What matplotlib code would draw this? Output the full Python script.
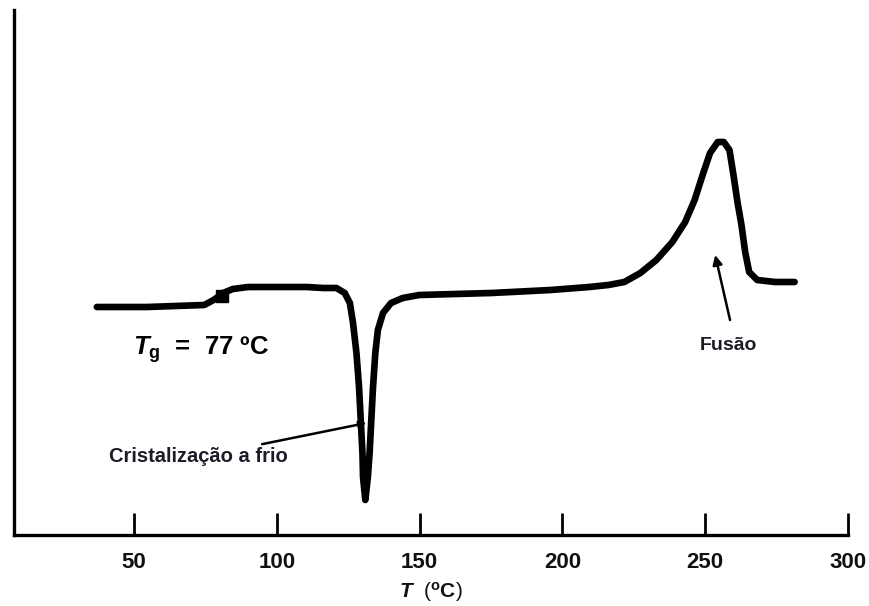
import matplotlib
matplotlib.use("Agg")
import matplotlib.pyplot as plt

# DSC curve: temperature (C) and signal (arbitrary units)
temperature = [37.0, 54.6, 74.6, 77.9, 81.2, 84.6, 90.0, 110.4, 116.3, 120.9,
               123.8, 125.6, 126.7, 127.9, 128.8, 129.4, 130.0, 130.2, 131.0,
               131.9, 132.5, 133.1, 133.7, 134.5, 135.4, 137.2, 140.0, 144.1,
               149.9, 175.2, 195.9, 209.4, 216.1, 221.7, 227.3, 232.9, 238.5,
               243.0, 246.3, 249.1, 251.7, 254.4, 256.5, 258.5, 259.9, 261.3,
               262.7, 264.0, 265.4, 268.2, 274.4, 281.3]
signal = [2.28, 2.28, 2.30, 2.35, 2.42, 2.46, 2.48, 2.48, 2.47, 2.47,
          2.42, 2.32, 2.12, 1.82, 1.48, 1.15, 0.82, 0.58, 0.35,
          0.58, 0.82, 1.15, 1.48, 1.82, 2.05, 2.22, 2.32, 2.37,
          2.40, 2.42, 2.45, 2.48, 2.50, 2.53, 2.62, 2.75, 2.93,
          3.13, 3.35, 3.60, 3.82, 3.93, 3.93, 3.85, 3.60, 3.33,
          3.10, 2.83, 2.63, 2.55, 2.53, 2.53]

tg_mark = (81.0, 2.39)
x_ticks = [50, 100, 150, 200, 250, 300]

plt.rcParams["font.family"] = ["Liberation Sans", "DejaVu Sans"]
plt.rcParams["mathtext.fontset"] = "custom"
plt.rcParams["mathtext.it"] = "Liberation Sans:italic:bold"
plt.rcParams["mathtext.rm"] = "Liberation Sans:bold"
plt.rcParams["mathtext.bf"] = "Liberation Sans:bold"

fig = plt.figure(figsize=(8.69, 6.06), dpi=100)
ax = fig.add_axes([14 / 869, 71 / 606, 834 / 869, 525 / 606])

ax.plot(temperature, signal, color="black", lw=4.8,
        solid_capstyle="round", solid_joinstyle="round")
ax.plot([tg_mark[0]], [tg_mark[1]], marker="s", ms=9, color="black")

ax.set_xlim(8, 300)
ax.set_ylim(0, 5.25)
ax.set_xticks(x_ticks)
ax.set_yticks([])
ax.tick_params(axis="x", direction="in", length=16, width=2, pad=12,
               labelsize=16, labelcolor="#111111")
for lbl in ax.get_xticklabels():
    lbl.set_fontweight("bold")

for side in ("top", "right"):
    ax.spines[side].set_visible(False)
for side in ("left", "bottom"):
    ax.spines[side].set_linewidth(2.4)

ax.set_xlabel(r"$\mathit{T}$  ($\mathrm{{}^{o}C}$)", fontsize=15,
              labelpad=5, color="#111111")

ax.text(49.5, 1.85, r"$\mathit{T}_{\mathrm{g}}$  =  77 ºC", fontsize=18.5,
        fontweight="bold", ha="left", va="center")

ax.annotate("Cristalização a frio", xy=(131.4, 1.12), xytext=(104, 0.78),
            fontsize=14.5, fontweight="bold", color="#1c1c28",
            ha="right", va="center",
            arrowprops=dict(arrowstyle="-|>", lw=1.8, color="black",
                            mutation_scale=10, shrinkA=2, shrinkB=0))

ax.annotate("", xy=(253.5, 2.80), xytext=(258.7, 2.15),
            arrowprops=dict(arrowstyle="-|>", lw=1.8, color="black",
                            mutation_scale=14, shrinkA=0, shrinkB=0))
ax.text(258, 1.90, "Fusão", fontsize=14, fontweight="bold",
        color="#1c1c28", ha="center", va="center")

fig.savefig("out.png", dpi=100)
